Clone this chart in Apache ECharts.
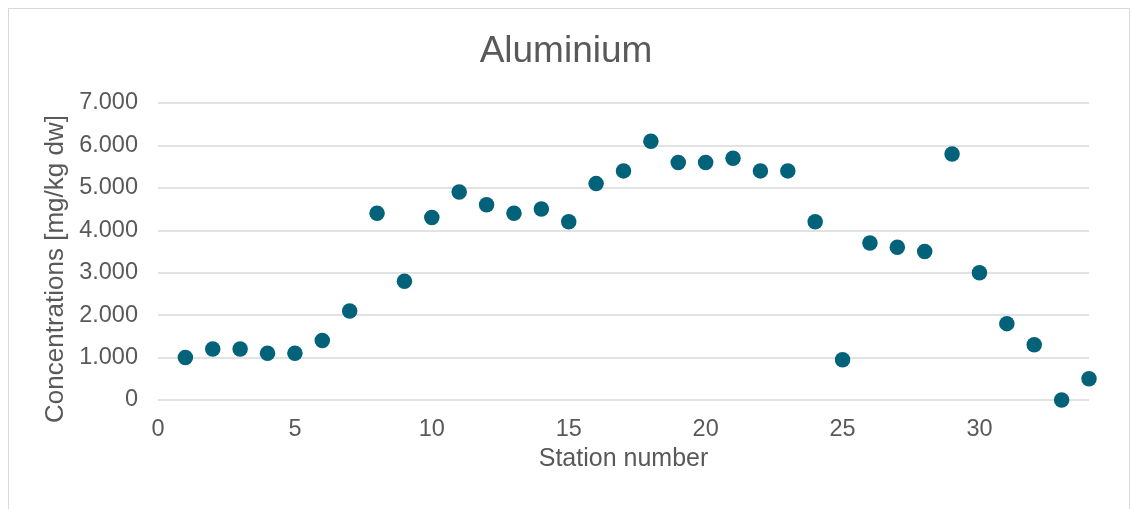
<!DOCTYPE html>
<html>
<head>
<meta charset="utf-8">
<script src="https://cdn.jsdelivr.net/npm/echarts@6/dist/echarts.min.js"></script>
<style>
  html, body { margin: 0; padding: 0; background: #fff; }
  #frame { position: absolute; left: 8px; top: 8px; width: 1122px; height: 510px; border: 1px solid #d9d9d9; box-sizing: border-box; }
  #chart { position: absolute; left: 0; top: 0; width: 1132px; height: 509px; }
</style>
</head>
<body>
<div id="frame"></div>
<div id="chart"></div>
<script>
// Station numbers and aluminium concentrations (mg/kg dw)
const stations = [1, 2, 3, 4, 5, 6, 7, 8, 9, 10, 11, 12, 13, 14, 15, 16, 17, 18, 19, 20, 21, 22, 23, 24, 25, 26, 27, 28, 29, 30, 31, 32, 33, 34];
const concentrations = [1000, 1200, 1200, 1100, 1100, 1400, 2100, 4400, 2800, 4300, 4900, 4600, 4400, 4500, 4200, 5100, 5400, 6100, 5600, 5600, 5700, 5400, 5400, 4200, 950, 3700, 3600, 3500, 5800, 3000, 1800, 1300, 0, 500];

const points = stations.map((s, i) => [s, concentrations[i]]);

// Thousands separated with a dot: 7000 -> "7.000"
const fmtThousands = v => {
  if (v === 0) return '0';
  const s = String(Math.round(v));
  return s.replace(/\B(?=(\d{3})+(?!\d))/g, '.');
};

const textColor = '#595959';
const font = 'Liberation Sans';

const chart = echarts.init(document.getElementById('chart'), null, { renderer: 'canvas' });
chart.setOption({
  animation: false,
  backgroundColor: 'transparent',
  title: {
    text: 'Aluminium',
    left: 'center',
    top: 28,
    textStyle: { fontFamily: font, fontSize: 37, fontWeight: 'normal', color: textColor }
  },
  grid: { left: 158, right: 43, top: 103, bottom: 109, containLabel: false },
  xAxis: {
    type: 'value',
    min: 0,
    max: 34,
    interval: 5,
    name: 'Station number',
    nameLocation: 'middle',
    nameGap: 43,
    nameTextStyle: { fontFamily: font, fontSize: 25, color: textColor },
    axisLine: { show: false },
    axisTick: { show: false },
    splitLine: { show: false },
    axisLabel: {
      fontFamily: font, fontSize: 23.5, color: textColor, margin: 18,
      showMaxLabel: false
    }
  },
  yAxis: {
    type: 'value',
    min: 0,
    max: 7000,
    interval: 1000,
    axisLine: { show: false },
    axisTick: { show: false },
    splitLine: { show: true, lineStyle: { color: '#d9d9d9', width: 1.5 } },
    axisLabel: {
      fontFamily: font, fontSize: 23.5, color: textColor, margin: 20,
      padding: [3, 0, 0, 0],
      formatter: fmtThousands
    }
  },
  graphic: [{
    type: 'text',
    x: 56,
    y: 269,
    rotation: Math.PI / 2,
    style: {
      text: 'Concentrations [mg/kg dw]',
      fontFamily: font,
      fontSize: 26,
      fill: textColor,
      align: 'center',
      verticalAlign: 'middle'
    }
  }],
  series: [{
    type: 'scatter',
    data: points,
    symbol: 'circle',
    symbolSize: 15.5,
    itemStyle: { color: '#01627a', opacity: 1 },
    clip: false
  }]
});
</script>
</body>
</html>
